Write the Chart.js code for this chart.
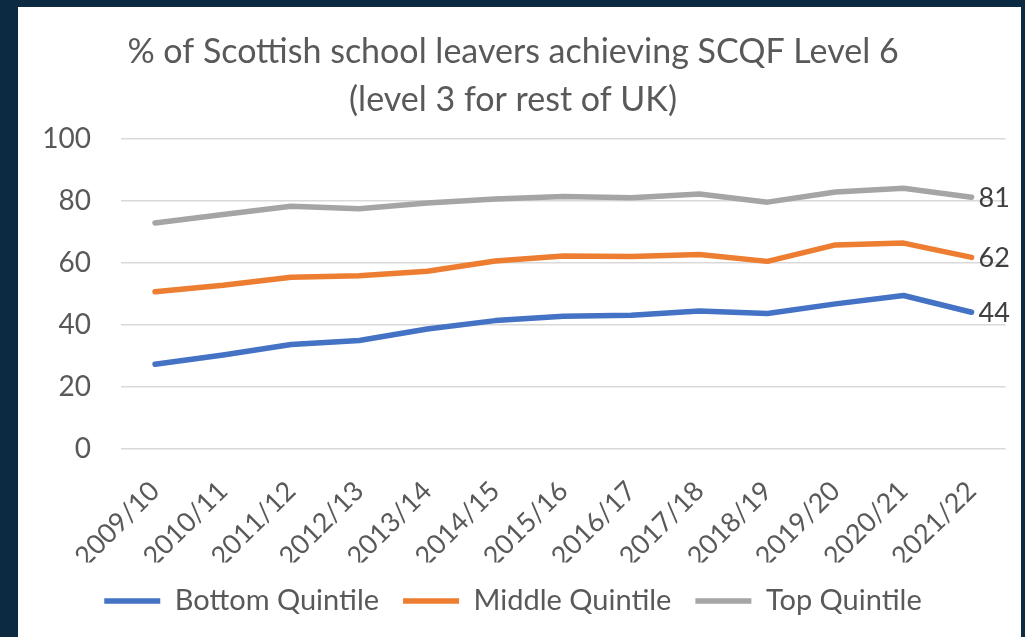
<!DOCTYPE html>
<html>
<head>
<meta charset="utf-8">
<script src="https://cdn.jsdelivr.net/npm/chart.js@4"></script>
<style>
  html, body { margin: 0; padding: 0; background: #0c2a42; }
  #wrap { position: absolute; left: 18px; top: 7px; width: 1003px; height: 630px; background: #ffffff; }
</style>
</head>
<body>
<div id="wrap"><canvas id="myChart" width="1003" height="630"></canvas></div>
<script>
// school years on the x axis
const years = ['2009/10', '2010/11', '2011/12', '2012/13', '2013/14', '2014/15', '2015/16',
  '2016/17', '2017/18', '2018/19', '2019/20', '2020/21', '2021/22'];

// % achieving SCQF level 6
const bottomQuintile = [27.3, 30.3, 33.7, 35.0, 38.7, 41.4, 42.8, 43.1, 44.5, 43.7, 46.8, 49.5, 44.1];
const middleQuintile = [50.7, 52.8, 55.4, 55.9, 57.3, 60.6, 62.2, 62.1, 62.7, 60.5, 65.8, 66.4, 61.8];
const topQuintile = [72.9, 75.6, 78.3, 77.5, 79.3, 80.6, 81.4, 81.0, 82.2, 79.6, 82.9, 84.1, 81.2];

const endLabels = ['44', '62', '81'];
const yTicks = [0, 20, 40, 60, 80, 100];

const fontName = 'Lato';

// writes the last value next to the end of each line
const endLabelPlugin = {
  id: 'endLabels',
  afterDatasetsDraw(chart) {
    const ctx = chart.ctx;
    ctx.save();
    ctx.font = '27px ' + fontName;
    ctx.fillStyle = '#404040';
    ctx.textAlign = 'left';
    ctx.textBaseline = 'middle';
    chart.data.datasets.forEach((ds, i) => {
      const meta = chart.getDatasetMeta(i);
      const pt = meta.data[meta.data.length - 1];
      ctx.fillText(endLabels[i], pt.x + 7, pt.y + 1);
    });
    ctx.restore();
  }
};

function makeSet(label, data, color) {
  return {
    label: label,
    data: data,
    borderColor: color,
    backgroundColor: color,
    borderWidth: 5.5,
    borderCapStyle: 'round',
    borderJoinStyle: 'round',
    pointRadius: 0,
    pointHoverRadius: 0,
    tension: 0
  };
}

const ctx = document.getElementById('myChart').getContext('2d');
const myChart = new Chart(ctx, {
  type: 'line',
  data: {
    labels: years,
    datasets: [
      makeSet('Bottom Quintile', bottomQuintile, '#4472C4'),
      makeSet('Middle Quintile', middleQuintile, '#ED7D31'),
      makeSet('Top Quintile', topQuintile, '#A5A5A5')
    ]
  },
  plugins: [endLabelPlugin],
  options: {
    responsive: false,
    animation: false,
    layout: {
      padding: { left: 0, right: 13, top: 0, bottom: 11.5 }
    },
    plugins: {
      title: {
        display: true,
        text: ['% of Scottish school leavers achieving SCQF Level 6', '(level 3 for rest of UK)'],
        color: '#595959',
        font: { family: fontName, size: 34, weight: 'normal', lineHeight: 1.41 },
        padding: { top: 21, bottom: 15 }
      },
      legend: {
        display: true,
        position: 'bottom',
        labels: {
          color: '#595959',
          font: { family: fontName, size: 29 },
          usePointStyle: true,
          pointStyle: 'line',
          pointStyleWidth: 56,
          padding: 24
        }
      },
      tooltip: { enabled: false }
    },
    scales: {
      x: {
        offset: true,
        afterFit: scale => { scale.height = 113.5; },
        grid: { display: false, drawTicks: false },
        border: { display: false },
        ticks: {
          color: '#595959',
          font: { family: fontName, size: 27 },
          maxRotation: 45,
          minRotation: 45,
          padding: 26
        }
      },
      y: {
        min: 0,
        max: 100,
        afterBuildTicks: scale => { scale.ticks = yTicks.map(v => ({ value: v })); },
        afterFit: scale => { scale.width = 103; },
        grid: { color: '#d9d9d9', lineWidth: 1.5, drawTicks: false },
        border: { display: false },
        ticks: {
          color: '#595959',
          font: { family: fontName, size: 28 },
          padding: 30
        }
      }
    }
  }
});
</script>
</body>
</html>
